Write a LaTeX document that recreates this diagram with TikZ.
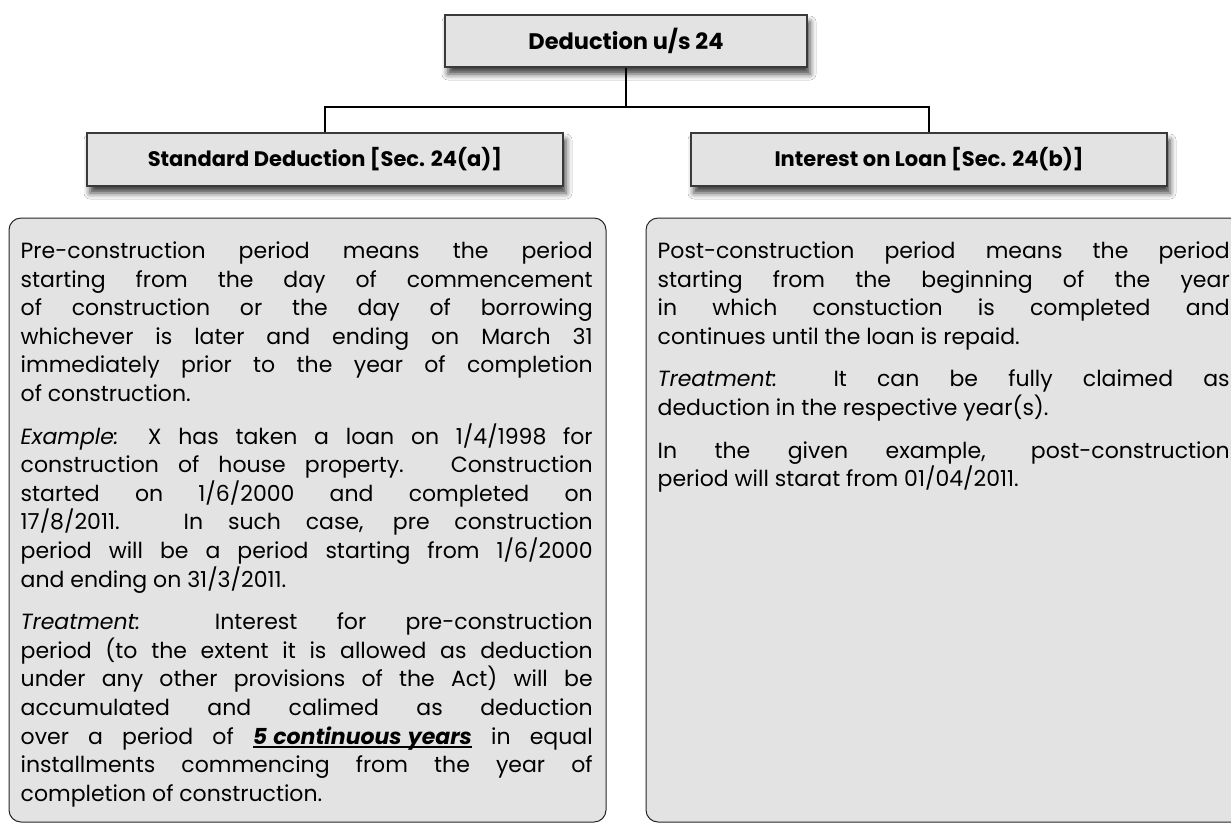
\documentclass[tikz,border=0pt]{standalone}
\usepackage{fontspec}
\setmainfont{Poppins}
\usetikzlibrary{shadows.blur,calc}
\definecolor{boxfill}{HTML}{E3E3E3}
\definecolor{boxline}{HTML}{3A3A3A}
\newcommand\jline[1]{\hbox to \hsize{\spaceskip=0.28em plus 1fil minus 0.2em #1}}
\newcommand\lline[1]{\hbox to \hsize{#1\hfil}}
\newcommand\pgap{\vskip 14pt}
\newcommand\myul[1]{\setbox0\hbox{#1}\rlap{\rule[-3.5pt]{\wd0}{1.4pt}}\box0\relax}
\tikzset{
  headbox/.style={draw=boxline, line width=1.3pt, fill=boxfill, inner sep=0pt,
    minimum height=53pt,
    font=\fontsize{21}{24}\selectfont\bfseries,
    blur shadow={shadow xshift=3pt, shadow yshift=-7pt, shadow blur radius=6pt, shadow opacity=75}},
  lowbox/.style={draw=black!85, line width=1pt, fill=boxfill, rounded corners=12pt,
    inner sep=0pt, minimum width=597pt, minimum height=604pt},
  bodytext/.style={anchor=north west, inner sep=0pt, align=left},
  conn/.style={draw=black, line width=2pt}
}
\begin{document}
\begin{tikzpicture}[x=1pt,y=-1pt]
\useasboundingbox (0,0) rectangle (1231,823);
\begin{scope}
\clip (0,0) rectangle (1231,823);
\fill[white] (0,0) rectangle (1231,823);
% header boxes
\node[headbox, minimum width=362pt, minimum height=52pt, font=\fontsize{22.5}{25}\selectfont\bfseries] (top) at (626,41) {Deduction u/s 24};
\node[headbox, minimum width=476pt] (sd) at (325,159.5) {Standard Deduction [Sec. 24(a)]};
\node[headbox, minimum width=476pt] (il) at (929,159.5) {Interest on Loan [Sec. 24(b)]};
% connectors
\coordinate (j) at (626,107);
\draw[conn] (top.south) -- (j);
\draw[conn] (sd.north) |- (j) -| (il.north);
% lower boxes
\node[lowbox] (lb) at (307.5,520) {};
\node[lowbox] (rb) at (944.5,520) {};
\node[bodytext] (lt) at ($(lb.north west)+(12,24)$) {\vbox{\hsize=572pt
\fontsize{22}{28.6}\selectfont
\jline{Pre-construction period means the period}
\jline{starting from the day of commencement}
\jline{of construction or the day of borrowing}
\jline{whichever is later and ending on March 31}
\jline{immediately prior to the year of completion}
\lline{of construction.}
\pgap
\jline{\textit{Example:} X has taken a loan on 1/4/1998 for}
\jline{construction of house property. Construction}
\jline{started on 1/6/2000 and completed on}
\jline{17/8/2011. In such case, pre construction}
\jline{period will be a period starting from 1/6/2000}
\lline{and ending on 31/3/2011.}
\pgap
\jline{\textit{Treatment:} Interest for pre-construction}
\jline{period (to the extent it is allowed as deduction}
\jline{under any other provisions of the Act) will be}
\jline{accumulated and calimed as deduction}
\jline{over a period of \myul{\textbf{\textit{5 continuous years}}} in equal}
\jline{installments commencing from the year of}
\lline{completion of construction.}
}};
\node[bodytext] (rt) at ($(rb.north west)+(12,24)$) {\vbox{\hsize=572pt
\fontsize{22}{28.6}\selectfont
\jline{Post-construction period means the period}
\jline{starting from the beginning of the year}
\jline{in which constuction is completed and}
\lline{continues until the loan is repaid.}
\pgap
\jline{\textit{Treatment:} It can be fully claimed as}
\lline{deduction in the respective year(s).}
\pgap
\jline{In the given example, post-construction}
\lline{period will starat from 01/04/2011.}
}};
\end{scope}
\end{tikzpicture}
\end{document}
